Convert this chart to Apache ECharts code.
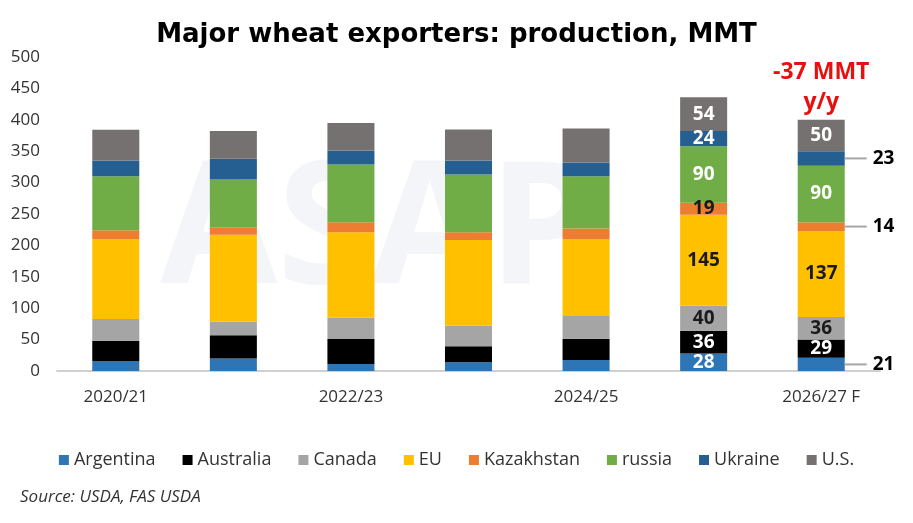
<!DOCTYPE html>
<html>
<head>
<meta charset="utf-8">
<script src="https://cdn.jsdelivr.net/npm/echarts@6/dist/echarts.min.js"></script>
<style>
  html, body { margin: 0; padding: 0; background: #fff; }
  #chart { width: 913px; height: 523px; }
</style>
</head>
<body>
<div id="chart"></div>
<script>
const categories = ['2020/21', '2021/22', '2022/23', '2023/24', '2024/25', '2025/26', '2026/27 F'];
const yTicks = [0, 50, 100, 150, 200, 250, 300, 350, 400, 450, 500];

// production by exporter, MMT (bottom to top)
const argentina  = [16, 20, 11, 14, 17.5, 28, 21];
const australia  = [32, 37, 40, 25.5, 34, 36, 29];
const canada     = [35, 22, 34, 33, 36, 40, 36];
const eu         = [127, 138, 136, 136, 122, 145, 137];
const kazakhstan = [14, 12, 16, 12.5, 17.5, 19, 14];
const russia     = [86, 76, 92, 92, 83, 90, 90];
const ukraine    = [25, 33, 22, 22, 22, 24, 23];
const us         = [49, 44, 44, 49.5, 54, 54, 50];

const yoyText = '-37 MMT\ny/y';

const FONT = '"Open Sans", "Noto Sans", sans-serif';
const TITLE_FONT = '"DejaVu Sans", "Open Sans", sans-serif';

// name, values, colour, label colour, label outside on last bar?
const layers = [
  ['Argentina', argentina, '#2E75B6', '#fff', true],
  ['Australia', australia, '#000000', '#fff', false],
  ['Canada', canada, '#A5A5A5', '#1a1a1a', false],
  ['EU', eu, '#FFC000', '#1a1a1a', false],
  ['Kazakhstan', kazakhstan, '#ED7D31', '#1a1a1a', true],
  ['russia', russia, '#70AD47', '#fff', false],
  ['Ukraine', ukraine, '#255E91', '#fff', true],
  ['U.S.', us, '#767171', '#fff', false]
];

const lastIdx = categories.length - 1;
const totals = categories.map((c, i) => layers.reduce((s, l) => s + l[1][i], 0));

const series = layers.map(([name, vals, color, lblColor, outside]) => {
  const data = vals.map((v, i) => {
    const item = { value: v };
    if (i >= 5) {
      if (outside && i === lastIdx) {
        item.label = {
          show: true,
          position: 'right',
          distance: 0,
          formatter: '{ln|}{v|' + v + '}',
          rich: {
            ln: { width: 22, height: 2, backgroundColor: '#a6a6a6' },
            v: { fontSize: 19, fontWeight: 'bold', color: '#000', fontFamily: FONT, padding: [0, 0, 0, 6] }
          }
        };
      } else {
        item.label = {
          show: true,
          position: 'inside',
          formatter: String(v),
          color: lblColor,
          fontSize: 19,
          fontWeight: 'bold',
          fontFamily: FONT
        };
      }
    }
    return item;
  });
  const s = {
    name: name,
    type: 'bar',
    stack: 'total',
    barWidth: '40%',
    itemStyle: { color: color },
    label: { show: false },
    emphasis: { disabled: true },
    data: data
  };
  if (name === 'U.S.') {
    s.markPoint = {
      symbol: 'rect',
      symbolSize: 0,
      data: [{ coord: [categories[lastIdx], totals[lastIdx]] }],
      label: {
        show: true,
        position: 'top',
        distance: 2,
        formatter: yoyText,
        color: '#e8100f',
        fontSize: 23,
        fontWeight: 'bold',
        lineHeight: 30,
        fontFamily: FONT
      }
    };
  }
  return s;
});

const chart = echarts.init(document.getElementById('chart'), null, { renderer: 'canvas' });

chart.setOption({
  animation: false,
  backgroundColor: '#fff',
  title: {
    text: 'Major wheat exporters: production, MMT',
    left: 'center',
    top: 17,
    textStyle: { fontSize: 26, fontWeight: 'bold', color: '#000', fontFamily: TITLE_FONT }
  },
  graphic: [
    {
      type: 'text',
      left: 160,
      top: 150,
      z: -10,
      silent: true,
      style: { text: 'ASAP', fontSize: 170, fontWeight: 'bold', fill: '#f4f5f8', fontFamily: FONT }
    },
    {
      type: 'text',
      left: 20,
      top: 489,
      style: { text: 'Source: USDA, FAS USDA', fontSize: 17, fontStyle: 'italic', fill: '#333', fontFamily: FONT }
    }
  ],
  legend: {
    top: 446,
    left: 'center',
    itemWidth: 10,
    itemHeight: 10,
    itemGap: 27,
    icon: 'rect',
    textStyle: { fontSize: 18, color: '#333', fontFamily: FONT },
    data: layers.map(l => l[0])
  },
  grid: { left: 57, right: 33, top: 57, bottom: 152 },
  xAxis: {
    type: 'category',
    data: categories,
    axisLine: { lineStyle: { color: '#d0d0d0', width: 2 } },
    axisTick: { show: false },
    axisLabel: { interval: 1, fontSize: 17, color: '#333', margin: 18, fontFamily: FONT }
  },
  yAxis: {
    type: 'value',
    min: yTicks[0],
    max: yTicks[yTicks.length - 1],
    interval: yTicks[1] - yTicks[0],
    splitLine: { show: false },
    axisLine: { show: false },
    axisTick: { show: false },
    axisLabel: { fontSize: 17, color: '#333', margin: 17, fontFamily: FONT }
  },
  series: series
});
</script>
</body>
</html>
